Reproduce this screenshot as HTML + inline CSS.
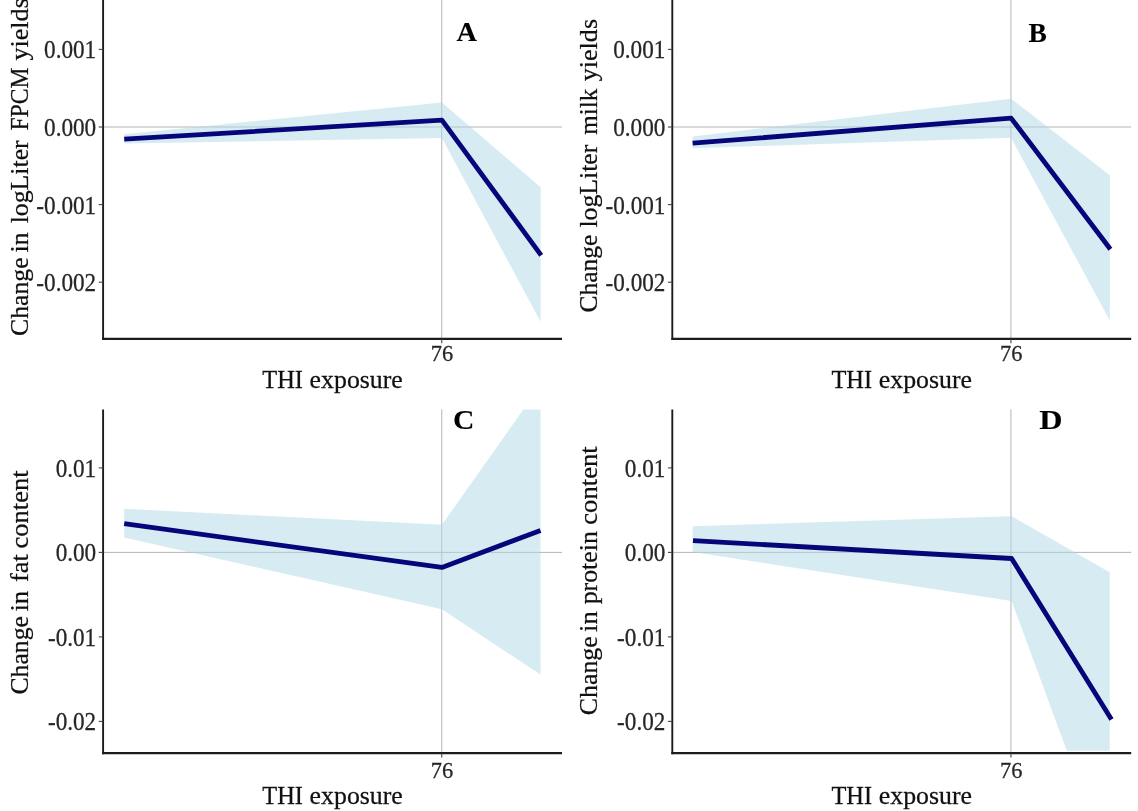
<!DOCTYPE html>
<html lang="en"><head><meta charset="utf-8"><title>THI exposure effects</title>
<style>html,body{margin:0;padding:0;background:#fff;}body{width:1138px;height:811px;overflow:hidden;}svg{display:block;}text{font-family:"Liberation Serif","Times New Roman",serif;font-kerning:none;stroke:currentColor;stroke-width:0.25px;}</style>
</head><body>
<svg width="1138" height="811" viewBox="0 0 1138 811">
<rect width="1138" height="811" fill="#fff"/>
<g id="panel-A">
<clipPath id="cA"><rect x="103.1" y="-5" width="458.9" height="341.40000000000003"/></clipPath>
<line x1="441.75" y1="-5" x2="441.75" y2="338.8" stroke="#adadad" stroke-width="0.9"/>
<line x1="103.10" y1="127.0" x2="562.00" y2="127.0" stroke="#adadad" stroke-width="0.9"/>
<polygon points="124.2,134.2 441.9,102.6 540.6,187.3 540.6,321.8 441.9,138.0 124.2,143.4" fill="#add8e6" fill-opacity="0.5" clip-path="url(#cA)"/>
<polyline points="124.2,139.2 441.9,120.2 541.2,255.3" fill="none" stroke="#06067a" stroke-width="4.8" stroke-linejoin="round" stroke-linecap="butt" clip-path="url(#cA)"/>
<line x1="103.10" y1="-5" x2="103.10" y2="339.85" stroke="#1c1c1c" stroke-width="1.9"/>
<line x1="102.15" y1="338.8" x2="562.00" y2="338.8" stroke="#1c1c1c" stroke-width="2.3"/>
<line x1="98.70" y1="49.4" x2="103.10" y2="49.4" stroke="#444" stroke-width="1.1"/>
<text transform="translate(96.20,58.40) scale(1,1.05)" text-anchor="end" font-size="23.2" fill="#262626" color="#262626">0.001</text>
<line x1="98.70" y1="127.0" x2="103.10" y2="127.0" stroke="#444" stroke-width="1.1"/>
<text transform="translate(96.20,136.00) scale(1,1.05)" text-anchor="end" font-size="23.2" fill="#262626" color="#262626">0.000</text>
<line x1="98.70" y1="204.6" x2="103.10" y2="204.6" stroke="#444" stroke-width="1.1"/>
<text transform="translate(96.20,213.60) scale(1,1.05)" text-anchor="end" font-size="23.2" fill="#262626" color="#262626">-0.001</text>
<line x1="98.70" y1="282.2" x2="103.10" y2="282.2" stroke="#444" stroke-width="1.1"/>
<text transform="translate(96.20,291.20) scale(1,1.05)" text-anchor="end" font-size="23.2" fill="#262626" color="#262626">-0.002</text>
<line x1="441.75" y1="338.8" x2="441.75" y2="343.2" stroke="#444" stroke-width="1.1"/>
<text transform="translate(442.05,361.30) scale(1,1.05)" text-anchor="middle" font-size="22.4" fill="#262626" color="#262626">76</text>
<text transform="translate(262.26,388.20) scale(0.9772,1.0)" font-size="25" fill="#111" color="#111">THI</text>
<text transform="translate(309.59,388.20) scale(1.0339,1.0)" font-size="25" fill="#111" color="#111">exposure</text>
<text transform="translate(27.70,335.95) rotate(-90) scale(1.0368,1)" font-size="24.8" fill="#111" color="#111">Change</text>
<text transform="translate(27.70,252.54) rotate(-90) scale(1.0438,1)" font-size="24.8" fill="#111" color="#111">in</text>
<text transform="translate(27.70,223.32) rotate(-90) scale(1.0395,1)" font-size="24.8" fill="#111" color="#111">logLiter</text>
<text transform="translate(27.70,130.58) rotate(-90) scale(0.9546,1)" font-size="24.8" fill="#111" color="#111">FPCM</text>
<text transform="translate(27.70,60.62) rotate(-90) scale(1.0544,1)" font-size="24.8" fill="#111" color="#111">yields</text>
<text transform="translate(456.62,40.70) scale(1.0352,1.0)" font-size="27.4" fill="#000" color="#000" font-weight="bold" style="stroke-width:0.1px">A</text>
</g>
<g id="panel-B">
<clipPath id="cB"><rect x="672.3000000000001" y="-5" width="458.9" height="341.40000000000003"/></clipPath>
<line x1="1010.95" y1="-5" x2="1010.95" y2="338.8" stroke="#adadad" stroke-width="0.9"/>
<line x1="672.30" y1="127.0" x2="1131.20" y2="127.0" stroke="#adadad" stroke-width="0.9"/>
<polygon points="692.6,136.5 1011.1,98.8 1109.8,175.3 1109.8,320.6 1011.1,137.8 692.6,148.2" fill="#add8e6" fill-opacity="0.5" clip-path="url(#cB)"/>
<polyline points="692.6,143.2 1011.1,118.1 1110.4,249.2" fill="none" stroke="#06067a" stroke-width="4.8" stroke-linejoin="round" stroke-linecap="butt" clip-path="url(#cB)"/>
<line x1="672.30" y1="-5" x2="672.30" y2="339.85" stroke="#1c1c1c" stroke-width="1.9"/>
<line x1="671.35" y1="338.8" x2="1131.20" y2="338.8" stroke="#1c1c1c" stroke-width="2.3"/>
<line x1="667.90" y1="49.4" x2="672.30" y2="49.4" stroke="#444" stroke-width="1.1"/>
<text transform="translate(665.40,58.40) scale(1,1.05)" text-anchor="end" font-size="23.2" fill="#262626" color="#262626">0.001</text>
<line x1="667.90" y1="127.0" x2="672.30" y2="127.0" stroke="#444" stroke-width="1.1"/>
<text transform="translate(665.40,136.00) scale(1,1.05)" text-anchor="end" font-size="23.2" fill="#262626" color="#262626">0.000</text>
<line x1="667.90" y1="204.6" x2="672.30" y2="204.6" stroke="#444" stroke-width="1.1"/>
<text transform="translate(665.40,213.60) scale(1,1.05)" text-anchor="end" font-size="23.2" fill="#262626" color="#262626">-0.001</text>
<line x1="667.90" y1="282.2" x2="672.30" y2="282.2" stroke="#444" stroke-width="1.1"/>
<text transform="translate(665.40,291.20) scale(1,1.05)" text-anchor="end" font-size="23.2" fill="#262626" color="#262626">-0.002</text>
<line x1="1010.95" y1="338.8" x2="1010.95" y2="343.2" stroke="#444" stroke-width="1.1"/>
<text transform="translate(1011.25,361.30) scale(1,1.05)" text-anchor="middle" font-size="22.4" fill="#262626" color="#262626">76</text>
<text transform="translate(831.46,388.20) scale(0.9772,1.0)" font-size="25" fill="#111" color="#111">THI</text>
<text transform="translate(878.79,388.20) scale(1.0339,1.0)" font-size="25" fill="#111" color="#111">exposure</text>
<text transform="translate(596.90,312.55) rotate(-90) scale(1.0274,1)" font-size="24.8" fill="#111" color="#111">Change</text>
<text transform="translate(596.90,227.62) rotate(-90) scale(1.0395,1)" font-size="24.8" fill="#111" color="#111">logLiter</text>
<text transform="translate(596.90,134.73) rotate(-90) scale(1.0122,1)" font-size="24.8" fill="#111" color="#111">milk</text>
<text transform="translate(596.90,81.22) rotate(-90) scale(1.0510,1)" font-size="24.8" fill="#111" color="#111">yields</text>
<text transform="translate(1028.54,41.60) scale(1.0025,1.0)" font-size="27.4" fill="#000" color="#000" font-weight="bold" style="stroke-width:0.1px">B</text>
</g>
<g id="panel-C">
<clipPath id="cC"><rect x="103.1" y="409.4" width="458.9" height="341.4000000000001"/></clipPath>
<line x1="441.75" y1="409.4" x2="441.75" y2="753.2" stroke="#adadad" stroke-width="0.9"/>
<line x1="103.10" y1="552.4" x2="562.00" y2="552.4" stroke="#adadad" stroke-width="0.9"/>
<polygon points="124.2,508.8 441.9,524.8 540.5,385.2 540.5,674.6 441.9,609.3 124.2,537.4" fill="#add8e6" fill-opacity="0.5" clip-path="url(#cC)"/>
<polyline points="124.2,523.7 441.9,567.4 540.5,530.5" fill="none" stroke="#06067a" stroke-width="4.8" stroke-linejoin="round" stroke-linecap="butt" clip-path="url(#cC)"/>
<line x1="103.10" y1="409.4" x2="103.10" y2="754.25" stroke="#1c1c1c" stroke-width="1.9"/>
<line x1="102.15" y1="753.2" x2="562.00" y2="753.2" stroke="#1c1c1c" stroke-width="2.3"/>
<line x1="98.70" y1="467.9" x2="103.10" y2="467.9" stroke="#444" stroke-width="1.1"/>
<text transform="translate(96.20,476.90) scale(1,1.05)" text-anchor="end" font-size="23.2" fill="#262626" color="#262626">0.01</text>
<line x1="98.70" y1="552.4" x2="103.10" y2="552.4" stroke="#444" stroke-width="1.1"/>
<text transform="translate(96.20,561.40) scale(1,1.05)" text-anchor="end" font-size="23.2" fill="#262626" color="#262626">0.00</text>
<line x1="98.70" y1="636.9" x2="103.10" y2="636.9" stroke="#444" stroke-width="1.1"/>
<text transform="translate(96.20,645.90) scale(1,1.05)" text-anchor="end" font-size="23.2" fill="#262626" color="#262626">-0.01</text>
<line x1="98.70" y1="721.4" x2="103.10" y2="721.4" stroke="#444" stroke-width="1.1"/>
<text transform="translate(96.20,730.40) scale(1,1.05)" text-anchor="end" font-size="23.2" fill="#262626" color="#262626">-0.02</text>
<line x1="441.75" y1="753.2" x2="441.75" y2="757.6" stroke="#444" stroke-width="1.1"/>
<text transform="translate(442.05,777.60) scale(1,1.05)" text-anchor="middle" font-size="22.4" fill="#262626" color="#262626">76</text>
<text transform="translate(262.26,804.10) scale(0.9772,1.0)" font-size="25" fill="#111" color="#111">THI</text>
<text transform="translate(309.59,804.10) scale(1.0339,1.0)" font-size="25" fill="#111" color="#111">exposure</text>
<text transform="translate(27.70,694.55) rotate(-90) scale(1.0368,1)" font-size="24.8" fill="#111" color="#111">Change</text>
<text transform="translate(27.70,611.56) rotate(-90) scale(1.0764,1)" font-size="24.8" fill="#111" color="#111">in</text>
<text transform="translate(27.70,582.01) rotate(-90) scale(1.0615,1)" font-size="24.8" fill="#111" color="#111">fat</text>
<text transform="translate(27.70,548.41) rotate(-90) scale(1.0681,1)" font-size="24.8" fill="#111" color="#111">content</text>
<text transform="translate(453.05,429.00) scale(1.0817,1.0)" font-size="27.4" fill="#000" color="#000" font-weight="bold" style="stroke-width:0.1px">C</text>
</g>
<g id="panel-D">
<clipPath id="cD"><rect x="672.3000000000001" y="409.4" width="458.9" height="341.4000000000001"/></clipPath>
<line x1="1010.95" y1="409.4" x2="1010.95" y2="753.2" stroke="#adadad" stroke-width="0.9"/>
<line x1="672.30" y1="552.4" x2="1131.20" y2="552.4" stroke="#adadad" stroke-width="0.9"/>
<polygon points="692.6,526.3 1011.6,516.3 1109.7,572.3 1109.7,867.0 1011.6,600.9 692.6,552.0" fill="#add8e6" fill-opacity="0.5" clip-path="url(#cD)"/>
<polyline points="693.0,540.6 1011.6,558.5 1111.5,719.6" fill="none" stroke="#06067a" stroke-width="4.8" stroke-linejoin="round" stroke-linecap="butt" clip-path="url(#cD)"/>
<line x1="672.30" y1="409.4" x2="672.30" y2="754.25" stroke="#1c1c1c" stroke-width="1.9"/>
<line x1="671.35" y1="753.2" x2="1131.20" y2="753.2" stroke="#1c1c1c" stroke-width="2.3"/>
<line x1="667.90" y1="467.9" x2="672.30" y2="467.9" stroke="#444" stroke-width="1.1"/>
<text transform="translate(665.40,476.90) scale(1,1.05)" text-anchor="end" font-size="23.2" fill="#262626" color="#262626">0.01</text>
<line x1="667.90" y1="552.4" x2="672.30" y2="552.4" stroke="#444" stroke-width="1.1"/>
<text transform="translate(665.40,561.40) scale(1,1.05)" text-anchor="end" font-size="23.2" fill="#262626" color="#262626">0.00</text>
<line x1="667.90" y1="636.9" x2="672.30" y2="636.9" stroke="#444" stroke-width="1.1"/>
<text transform="translate(665.40,645.90) scale(1,1.05)" text-anchor="end" font-size="23.2" fill="#262626" color="#262626">-0.01</text>
<line x1="667.90" y1="721.4" x2="672.30" y2="721.4" stroke="#444" stroke-width="1.1"/>
<text transform="translate(665.40,730.40) scale(1,1.05)" text-anchor="end" font-size="23.2" fill="#262626" color="#262626">-0.02</text>
<line x1="1010.95" y1="753.2" x2="1010.95" y2="757.6" stroke="#444" stroke-width="1.1"/>
<text transform="translate(1011.25,777.60) scale(1,1.05)" text-anchor="middle" font-size="22.4" fill="#262626" color="#262626">76</text>
<text transform="translate(831.46,804.10) scale(0.9772,1.0)" font-size="25" fill="#111" color="#111">THI</text>
<text transform="translate(878.79,804.10) scale(1.0339,1.0)" font-size="25" fill="#111" color="#111">exposure</text>
<text transform="translate(596.90,715.36) rotate(-90) scale(1.0449,1)" font-size="24.8" fill="#111" color="#111">Change</text>
<text transform="translate(596.90,631.96) rotate(-90) scale(1.0710,1)" font-size="24.8" fill="#111" color="#111">in</text>
<text transform="translate(596.90,604.32) rotate(-90) scale(1.0422,1)" font-size="24.8" fill="#111" color="#111">protein</text>
<text transform="translate(596.90,524.72) rotate(-90) scale(1.0750,1)" font-size="24.8" fill="#111" color="#111">content</text>
<text transform="translate(1039.33,429.40) scale(1.1743,1.0)" font-size="27.4" fill="#000" color="#000" font-weight="bold" style="stroke-width:0.1px">D</text>
</g>
</svg></body></html>
